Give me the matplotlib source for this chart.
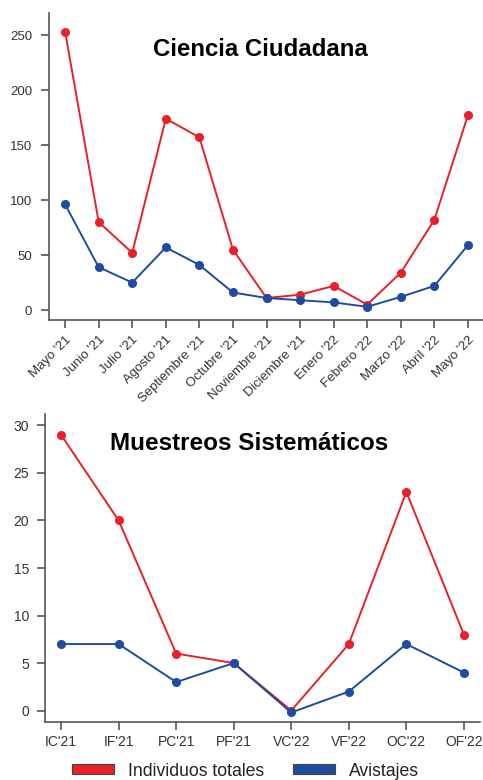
import matplotlib
matplotlib.use("Agg")
import matplotlib.pyplot as plt
from matplotlib.patches import Patch

plt.rcParams['font.family'] = ['Liberation Sans', 'DejaVu Sans']

# Data
months = ["Mayo '21", "Junio '21", "Julio '21", "Agosto '21", "Septiembre '21",
          "Octubre '21", "Noviembre '21", "Diciembre '21", "Enero '22",
          "Febrero '22", "Marzo '22", "Abril '22", "Mayo '22"]
cc_individuos = [253, 80, 52, 174, 157, 55, 11, 14, 22, 5, 34, 82, 177]
cc_avistajes = [96, 39, 25, 57, 41, 16, 11, 9, 7, 3, 12, 22, 59]

campaigns = ["IC'21", "IF'21", "PC'21", "PF'21", "VC'22", "VF'22", "OC'22", "OF'22"]
ms_individuos = [29, 20, 6, 5, 0, 7, 23, 8]
ms_avistajes = [7, 7, 3, 5, -0.2, 2, 7, 4]

RED = '#e8202a'
BLUE = '#1f4ba0'
SPINE = '#555555'
TXT = '#333333'

W, H = 483, 780
fig = plt.figure(figsize=(W / 100, H / 100), dpi=100)

def box(l, t, r, b):
    return [l / W, 1 - b / H, (r - l) / W, (b - t) / H]

def style(ax, fs, ypad):
    for s in ['top', 'right']:
        ax.spines[s].set_visible(False)
    for s in ['left', 'bottom']:
        ax.spines[s].set_color(SPINE)
        ax.spines[s].set_linewidth(1.2)
    ax.tick_params(axis='both', direction='out', length=6, width=1.2,
                   color=SPINE, labelcolor=TXT, labelsize=fs)
    ax.tick_params(axis='y', pad=ypad)

# Top chart
ax1 = fig.add_axes(box(49, 13, 483, 320))
x1 = list(range(len(months)))
ax1.plot(x1, cc_individuos, color=RED, lw=1.4, marker='o', ms=5.5, zorder=2)
ax1.plot(x1, cc_avistajes, color=BLUE, lw=1.4, marker='o', ms=5.5, zorder=3)
ax1.set_xlim(-0.48, 12.45)
ax1.set_ylim(-9, 270)
ax1.set_yticks([0, 50, 100, 150, 200, 250])
ax1.set_xticks(x1)
ax1.set_xticklabels(months, rotation=45, ha='right', rotation_mode='anchor')
style(ax1, 9.5, 6)
ax1.tick_params(axis='x', pad=4)
ax1.text(0.486, 0.882, 'Ciencia Ciudadana', transform=ax1.transAxes,
         fontsize=17.3, fontweight='bold', ha='center', va='center', color='black')

# Bottom chart
ax2 = fig.add_axes(box(45, 414, 480, 722))
x2 = list(range(len(campaigns)))
ax2.plot(x2, ms_individuos, color=RED, lw=1.4, marker='o', ms=5.5, zorder=2)
ax2.plot(x2, ms_avistajes, color=BLUE, lw=1.4, marker='o', ms=5.5, zorder=3)
ax2.set_xlim(-0.28, 7.28)
ax2.set_ylim(-1.2, 31.2)
ax2.set_yticks([0, 5, 10, 15, 20, 25, 30])
ax2.set_xticks(x2)
ax2.set_xticklabels(campaigns)
style(ax2, 10, 5.5)
ax2.tick_params(axis='x', pad=3.5)
ax2.text(0.47, 0.905, 'Muestreos Sistemáticos', transform=ax2.transAxes,
         fontsize=17.5, fontweight='bold', ha='center', va='center', color='black')

# Legend
handles = [Patch(facecolor=RED, edgecolor='#444444', linewidth=0.8, label='Individuos totales'),
           Patch(facecolor=BLUE, edgecolor='#444444', linewidth=0.8, label='Avistajes')]
fig.legend(handles=handles, loc='center left', bbox_to_anchor=(72 / W, 1 - 771 / H),
           ncol=2, frameon=False, fontsize=12.7, handlelength=2.4, handleheight=0.45,
           handletextpad=0.8, columnspacing=1.6, borderpad=0, borderaxespad=0,
           labelcolor='#222222')

fig.savefig('out.png', dpi=100)
